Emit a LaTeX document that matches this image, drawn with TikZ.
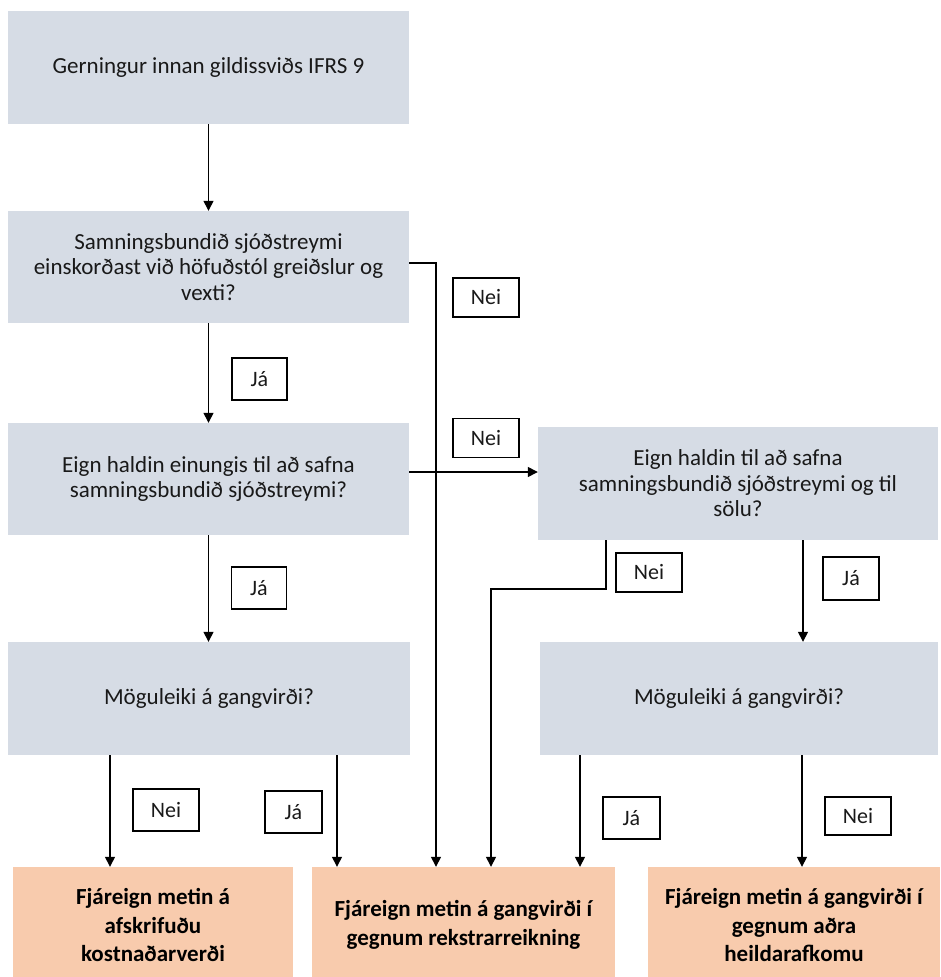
\documentclass[tikz,border=0pt]{standalone}
\usepackage{fontspec}
\setmainfont{Carlito}
\usetikzlibrary{arrows.meta}
\definecolor{boxgray}{RGB}{214,220,229}
\definecolor{boxorange}{RGB}{248,203,173}
\tikzset{
  gbox/.style={fill=boxgray, inner sep=0pt, align=center, text=black!90,
    font=\fontsize{23}{25.5}\selectfont},
  obox/.style={fill=boxorange, inner sep=0pt, align=center, text=black,
    font=\fontsize{23}{28.5}\selectfont\bfseries},
  lbl/.style={draw, line width=1.5pt, fill=white, inner sep=0pt, text=black!90,
    font=\fontsize{22}{24}\selectfont},
  neilbl/.style={lbl, minimum width=66pt, minimum height=39pt},
  jalbl/.style={lbl, minimum width=55pt, minimum height=42pt},
  arr/.style={line width=1.4pt, -{Triangle[length=10pt,width=10pt]}}
}
\begin{document}
\begin{tikzpicture}[x=1pt,y=-1pt]
\useasboundingbox (0,0) rectangle (941,977);
% question boxes
\node[gbox, minimum width=401pt, minimum height=113pt] (b1) at (208.5,67.5)
  {Gerningur innan gildissviðs IFRS 9};
\node[gbox, minimum width=401pt, minimum height=112pt] (b2) at (208.5,267)
  {Samningsbundið sjóðstreymi\\einskorðast við höfuðstól greiðslur og\\vexti?};
\node[gbox, minimum width=401pt, minimum height=112pt] (b3) at (208.5,479)
  {Eign haldin einungis til að safna\\samningsbundið sjóðstreymi?};
\node[gbox, minimum width=400pt, minimum height=113pt] (b4) at (738,483.5)
  {Eign haldin til að safna\\samningsbundið sjóðstreymi og til\\sölu?};
\node[gbox, minimum width=402pt, minimum height=113pt] (b5) at (209,698.5)
  {Möguleiki á gangvirði?};
\node[gbox, minimum width=398pt, minimum height=113pt] (b6) at (739,698.5)
  {Möguleiki á gangvirði?};
% result boxes (run past the lower edge)
\node[obox, minimum width=280pt, minimum height=116pt] (r1) at (153,925)
  {Fjáreign metin á\\afskrifuðu\\kostnaðarverði};
\node[obox, minimum width=303pt, minimum height=116pt] (r2) at (463.5,925)
  {Fjáreign metin á gangvirði í\\gegnum rekstrarreikning};
\node[obox, minimum width=292pt, minimum height=116pt] (r3) at (794,925)
  {Fjáreign metin á gangvirði í\\gegnum aðra\\heildarafkomu};
% helper coordinates
\coordinate (xa) at ([xshift=-43pt]r1.north);
\coordinate (xb) at ([xshift=-126.5pt]r2.north);
\coordinate (xc) at ([xshift=-27.5pt]r2.north);
\coordinate (xd) at ([xshift=27.5pt]r2.north);
\coordinate (xe) at ([xshift=116.5pt]r2.north);
\coordinate (xf) at ([xshift=8pt]r3.north);
\coordinate (xg) at ([xshift=64pt]b6.north);
\coordinate (k1) at (606,589);
% connectors
\draw[arr] (b1.south) -- (b2.north);
\draw[arr] (b2.south) -- (b3.north);
\draw[arr] (b3.south) -- (b3.south |- b5.north);
\draw[arr] ([yshift=4pt]b2.east) -| (xc);
\draw[arr] ([yshift=7pt]b3.east) -- ([yshift=7pt]b3.east -| b4.west);
\draw[arr] (k1 |- b4.south) -- (k1) -| (xd);
\draw[arr] (xg |- b4.south) -- (xg);
\draw[arr] (xa |- b5.south) -- (xa);
\draw[arr] (xb |- b5.south) -- (xb);
\draw[arr] (xe |- b6.south) -- (xe);
\draw[arr] (xf |- b6.south) -- (xf);
% labels
\node[neilbl] (n1) at (486,297.5) {Nei};
\node[jalbl] (j1) at (259.5,379) {Já};
\node[neilbl] (n2) at (486,438) {Nei};
\node[jalbl] (j2) at (259,588) {Já};
\node[neilbl] (n3) at (649,572.5) {Nei};
\node[jalbl, minimum width=56pt, minimum height=43pt] (j3) at (851,578.5) {Já};
\node[neilbl, minimum height=42pt] (n4) at (166,810) {Nei};
\node[jalbl, minimum width=57pt] (j4) at (293.5,812) {Já};
\node[jalbl, minimum width=57pt] (j5) at (631.5,818) {Já};
\node[neilbl, minimum height=38pt] (n5) at (858,816) {Nei};
\end{tikzpicture}
\end{document}
